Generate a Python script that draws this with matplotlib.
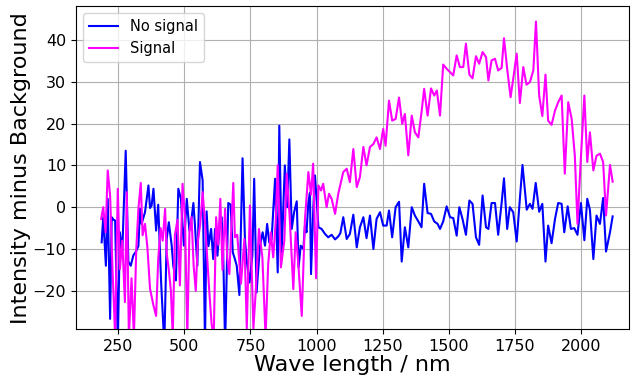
import numpy as np
import matplotlib
matplotlib.use("Agg")
import matplotlib.pyplot as plt

OUTPUT_PLOT_FILE = "out.png"

# No signal (blue): wavelength (nm) and intensity minus background
nosig_wl = [187, 193, 203, 210, 219, 225, 232, 238, 248, 256, 265, 278, 288, 297, 307, 316,
            326, 332, 338, 351, 364, 370, 376, 383, 393, 401, 412, 424, 433, 441, 452, 458,
            468, 477, 487, 498, 509, 519, 527, 534, 540, 549, 559, 569, 578, 584, 591, 601,
            609, 616, 625, 635, 641, 647, 654, 666, 675, 683, 691, 698, 708, 720, 729, 735,
            746, 757, 764, 773, 786, 796, 805, 813, 821, 830, 843, 853, 859, 868, 880, 889,
            897, 906, 915, 925, 932, 940, 950, 956, 962, 969, 975, 979, 988, 994, 1007, 1019,
            1032, 1044, 1057, 1070, 1082, 1090, 1101, 1114, 1126, 1139, 1152, 1164, 1177, 1189,
            1202, 1215, 1227, 1240, 1252, 1265, 1274, 1286, 1299, 1312, 1322, 1334, 1347, 1360,
            1372, 1385, 1397, 1407, 1420, 1433, 1445, 1458, 1467, 1479, 1492, 1505, 1517, 1530,
            1540, 1552, 1565, 1578, 1590, 1603, 1615, 1628, 1641, 1650, 1662, 1675, 1687, 1700,
            1709, 1721, 1731, 1744, 1757, 1769, 1779, 1795, 1807, 1817, 1829, 1842, 1854, 1866,
            1876, 1889, 1902, 1914, 1927, 1937, 1950, 1962, 1975, 1987, 2000, 2013, 2024, 2034,
            2047, 2059, 2072, 2084, 2095, 2110, 2120]
nosig = [-8.4, -2.4, -14, 2, -26.7, -2.4, -3, -3.2, -33, -6, -10.7, 13.5, -13, -14, -11.5, -10.7,
         -9.3, -0.4, -4, -1.2, 5.2, -0.2, 0.4, 4.4, -5.6, 0.6, -18, -33, -7.6, -3.6, -9.2, -14,
         -17.5, 4.4, 2, -9.2, 2, -5.6, -2.8, 1, -4.4, -14, 10.8, 6.4, -33, -1, -9.3, -5.2,
         -12.4, -5.2, -11.6, -2.8, -2.4, -11.6, -33, 1, 0.6, -10.8, -12.4, -14, -21, 11.7, -7.6, -12.4,
         -18, -11.6, 6.8, -20.4, -9.2, -6, -9.2, -4, -8.4, -7.6, 6.8, -15.6, 19.5, -10.8, 10, 0,
         16.2, -5.2, -1.2, 1.4, -14.4, -9.2, -10, -4.4, -6, 1.2, 3.5, -16, 0.4, 7.6, -4.8, -5.2,
         -6.4, -7.2, -6.6, -7.7, -7, -6.2, -2.4, -7.6, -6.4, -1.8, -9.6, -4.8, -2.4, -7.4,
         -2.0, -10, -2.8, -1.2, -4.4, -4.4, -0.8, -7.2, 0, 1.3, -13, -4.8, -9.6, 0,
         -2, -3.4, -4.8, 5.6, -1.4, -1.6, -3.4, -4, -5.2, -3.4, 0.2, -2.4, -2.6, -6.8,
         0, -2.8, -6.6, 1.6, 0.8, -7.2, -9, 2.8, -4.8, -5.2, 1, 1, -6.6, 1,
         6.9, -5.2, 0, -1.2, -8.2, 2, 10.1, -0.6, 0.8, -0.4, 5.8, -1.1, 0.8, -13,
         -4.4, -8.6, -2.8, 1, 0.8, -6, 0.2, -5.2, -5, -6.6, 1, -7.9, 2, -0.6,
         -12.4, -2, -4, 2.2, -10.6, -6, -2.2]

# Signal (magenta)
sig_wl = [185, 193, 202, 210, 219, 228, 238, 248, 256, 265, 275, 282, 290, 300, 309, 318,
          326, 335, 342, 351, 360, 370, 383, 393, 401, 410, 418, 427, 433, 441, 449, 456,
          464, 474, 483, 493, 502, 511, 519, 527, 535, 543, 551, 560, 569, 578, 586, 594,
          603, 611, 620, 628, 636, 644, 654, 662, 670, 677, 685, 691, 700, 714, 727, 736,
          748, 761, 770, 782, 795, 807, 817, 827, 836, 845, 853, 865, 878, 887, 898, 912,
          921, 931, 944, 956, 969, 979, 987, 998, 1007, 1017, 1025, 1038, 1047, 1057, 1070, 1082,
          1101, 1114, 1126, 1139, 1152, 1164, 1177, 1189, 1202, 1215, 1227, 1240, 1252, 1261,
          1274, 1286, 1299, 1312, 1324, 1334, 1347, 1360, 1372, 1385, 1397, 1407, 1420, 1433,
          1445, 1455, 1467, 1479, 1492, 1505, 1517, 1530, 1542, 1555, 1565, 1578, 1590, 1603,
          1615, 1628, 1641, 1650, 1662, 1675, 1687, 1700, 1709, 1721, 1734, 1744, 1757, 1769,
          1782, 1794, 1807, 1820, 1830, 1842, 1854, 1866, 1876, 1889, 1902, 1914, 1927, 1939,
          1952, 1965, 1977, 1987, 2000, 2013, 2024, 2034, 2047, 2059, 2072, 2084, 2095, 2110, 2120]
sig = [-2.8, 0, -6, 8.8, 2.8, -14.8, -31, 4.4, -14.8, -8, -22.7, 3.6, -31, -17, -31, -10,
       -0.4, 5.8, -6.7, -4, -9.6, -19.5, -23.5, -26, -12.4, -5, -8, -0.4, -11, -15, -20, -31,
       -6.7, -3, -18.7, 5.6, -2.4, -31, -6, -2.4, -14, -20, -8, -4, 3.6, -3.6, -12, -20,
       -28, -31, -2.4, -9, 2, -15, -0.4, -12, -16, -6, 5.8, -7.2, -6.6, -18.3, -7.6, -29,
       0.4, -29, -20, -5.2, -12, -31, -13.6, -6, -12, -4, 10, -14.4, -8, 8, -2, -19.6,
       -6, -13.6, -26, -3, 8.4, 3, 10.4, -17, 5.2, 4, 5.6, 0, 3.2, 2, -1.6, 3.2,
       8.4, 9.2, 6.0, 13.9, 4.8, 7.2, 14.4, 10, 14.4, 15.1, 16.7, 13.9, 18.7, 14.7,
       25.5, 20.7, 21.1, 26.2, 19.9, 22.3, 12.4, 21.9, 17.9, 16.7, 22.7, 28.3, 21.9, 28.4,
       26.7, 27.9, 21.9, 34.1, 33.1, 32.3, 31.5, 36.3, 33.5, 33.5, 39.1, 31.7, 30.8, 36.1,
       34.3, 37.1, 35.9, 30.3, 35.1, 35.5, 32.7, 33.3, 40.4, 33.1, 26.3, 30.7, 36.7, 24.9,
       33.5, 29.3, 29.9, 32.7, 44.4, 26.7, 21.8, 31.7, 20.7, 19.7, 23.1, 25.1, 26.7, 8,
       25.1, 21.1, 12.3, -4, 12, 26.7, 10.8, 17.9, 8.8, 12.3, 12.8, 10.8, -2, 10.1, 6.1]


def plot_spectrum():
    fig = plt.figure(figsize=(6.35, 3.77), dpi=100)
    ax = fig.add_axes([0.1197, 0.1265, 0.8709, 0.8575])

    ax.plot(nosig_wl, nosig, color='blue', linewidth=1.5, label='No signal')
    ax.plot(sig_wl, sig, color='magenta', linewidth=1.5, label='Signal')

    ax.set_xlim(90, 2182)
    ax.set_ylim(-29.2, 48.1)
    ax.set_xticks([250, 500, 750, 1000, 1250, 1500, 1750, 2000])
    ax.set_yticks([-20, -10, 0, 10, 20, 30, 40])
    ax.tick_params(labelsize=11.5)
    ax.set_xlabel('Wave length / nm', fontsize=16, labelpad=1)
    ax.set_ylabel('Intensity minus Background', fontsize=16, labelpad=1)
    ax.grid(True)
    ax.legend(loc='upper left', fontsize=10.5)

    fig.savefig(OUTPUT_PLOT_FILE, dpi=100)


if __name__ == "__main__":
    assert len(nosig_wl) == len(nosig), (len(nosig_wl), len(nosig))
    assert len(sig_wl) == len(sig), (len(sig_wl), len(sig))
    plot_spectrum()
